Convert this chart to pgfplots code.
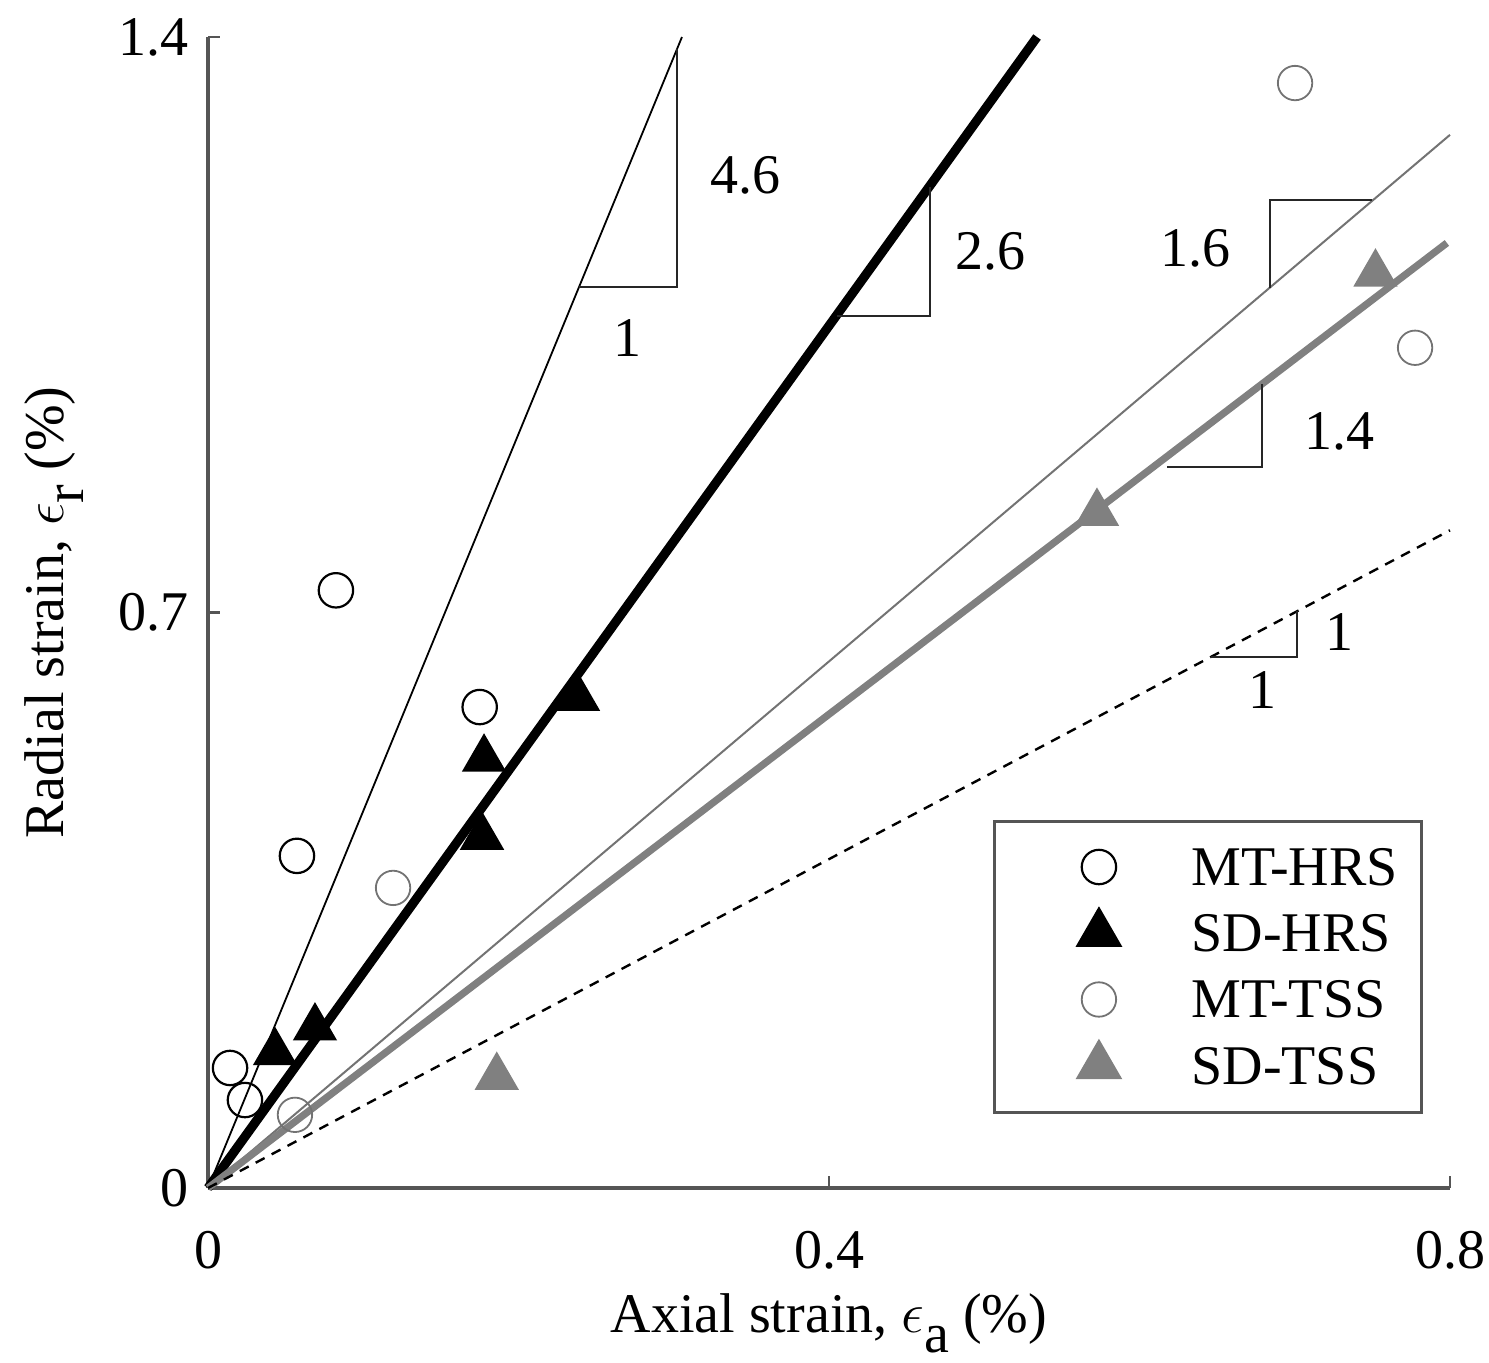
\documentclass[border=0pt]{standalone}
\usepackage{fontspec}
\setmainfont{Liberation Serif}
\usepackage{pgfplots}
\pgfplotsset{compat=1.18}
\definecolor{axgray}{RGB}{85,85,85}
\definecolor{lgray}{RGB}{128,128,128}
\definecolor{cgray}{RGB}{115,115,115}
\begin{document}
\fontsize{14}{16}\selectfont
\begin{tikzpicture}
\begin{axis}[
  scale only axis, width=310.5pt, height=287.75pt,
  xmin=0, xmax=0.8, ymin=0, ymax=1.4,
  axis x line*=bottom, axis y line*=left,
  axis line style={axgray, line width=0.8pt, -},
  xtick={0,0.4,0.8}, ytick={0,0.7,1.4},
  xticklabels={0,0.4,0.8}, yticklabels={0,0.7,1.4},
  tick align=inside, major tick length=3pt,
  tick style={axgray, line width=0.6pt},
  ticklabel style={font=\fontsize{14}{16}\selectfont},
  xticklabel style={yshift=-6pt},
  xlabel={Axial strain, $\epsilon$\raisebox{-5pt}{a} (\%)},
  ylabel={Radial strain, $\epsilon$\raisebox{-5pt}{r} (\%)},
  xlabel style={at={([yshift=-36pt]axis description cs:0.5,0)}, anchor=base},
  ylabel style={at={([xshift=-36pt]axis description cs:0,0.5)}, anchor=base},
  clip=false,
  legend style={at={(axis cs:0.5056,0.4476)}, anchor=north west,
    draw=axgray, line width=0.75pt, inner xsep=4pt, inner ysep=3pt,
    nodes={inner sep=2pt}, row sep=-0.5pt,
    font=\fontsize{14}{16}\selectfont},
  legend cell align=left,
]
% fitted lines
\addplot[black, line width=0.45pt, forget plot] coordinates {(0,0) (0.3053,1.4)};
\addplot[black, line width=2.3pt, forget plot] coordinates {(0,0) (0.534,1.4)};
\addplot[cgray, line width=0.5pt, forget plot] coordinates {(0,0) (0.8,1.281)};
\addplot[lgray, line width=1.8pt, forget plot] coordinates {(0,0) (0.798,1.1495)};
\addplot[black, line width=0.6pt, dash pattern=on 2.5pt off 2pt, forget plot] coordinates {(0,0) (0.8,0.8)};
% slope triangles
\addplot[black!85, line width=0.6pt, forget plot] coordinates {(0.2388,1.096) (0.302,1.096) (0.302,1.386)};
\addplot[black!85, line width=0.6pt, forget plot] coordinates {(0.405,1.061) (0.465,1.061) (0.465,1.218)};
\addplot[black!85, line width=0.6pt, forget plot] coordinates {(0.684,1.095) (0.684,1.202) (0.75,1.202)};
\addplot[black!85, line width=0.6pt, forget plot] coordinates {(0.618,0.877) (0.679,0.877) (0.679,0.978)};
\addplot[black!85, line width=0.6pt, forget plot] coordinates {(0.646,0.646) (0.7015,0.646) (0.7015,0.7015)};
\node at (axis cs:0.346,1.232) {4.6};
\node at (axis cs:0.270,1.034) {1};
\node at (axis cs:0.504,1.139) {2.6};
\node at (axis cs:0.636,1.143) {1.6};
\node at (axis cs:0.729,0.920) {1.4};
\node at (axis cs:0.729,0.676) {1};
\node at (axis cs:0.679,0.606) {1};
% data
\addplot[only marks, mark=o, mark size=4.3pt, black, line width=0.55pt, forget plot] coordinates {
 (0.0142,0.146) (0.0238,0.107) (0.0573,0.404) (0.0824,0.727) (0.175,0.585)};
\addplot[only marks, mark=triangle*, mark size=6pt, black, fill=black, forget plot] coordinates {
 (0.0432,0.165) (0.0689,0.195) (0.1765,0.427) (0.1778,0.522) (0.2383,0.596)};
\addplot[only marks, mark=o, mark size=4.3pt, cgray, line width=0.45pt, forget plot] coordinates {
 (0.056,0.089) (0.1192,0.365) (0.7002,1.344) (0.7775,1.022)};
\addplot[only marks, mark=triangle*, mark size=6pt, lgray, fill=lgray, forget plot] coordinates {
 (0.186,0.135) (0.5726,0.821) (0.752,1.112)};
% legend
\addlegendimage{legend image code/.code={\path (0pt,0pt) (42.5pt,9pt); \draw[black, line width=0.55pt] plot[only marks, mark=o, mark size=4.3pt] coordinates {(21.75pt,1pt)};}}
\addlegendentry{MT-HRS}
\addlegendimage{legend image code/.code={\path (0pt,0pt) (42.5pt,9pt); \draw[black, fill=black] plot[only marks, mark=triangle*, mark size=6pt] coordinates {(21.75pt,1pt)};}}
\addlegendentry{SD-HRS}
\addlegendimage{legend image code/.code={\path (0pt,0pt) (42.5pt,9pt); \draw[cgray, line width=0.45pt] plot[only marks, mark=o, mark size=4.3pt] coordinates {(21.75pt,1pt)};}}
\addlegendentry{MT-TSS}
\addlegendimage{legend image code/.code={\path (0pt,0pt) (42.5pt,9pt); \draw[lgray, fill=lgray] plot[only marks, mark=triangle*, mark size=6pt] coordinates {(21.75pt,1pt)};}}
\addlegendentry{SD-TSS}
\coordinate (BL) at (rel axis cs:0,0);
\coordinate (TR) at (rel axis cs:1,1);
\end{axis}
\pgfresetboundingbox
\path[use as bounding box] ([xshift=-52pt,yshift=-43.5pt]BL) rectangle ([xshift=9.75pt,yshift=9.25pt]TR);
\end{tikzpicture}
\end{document}
